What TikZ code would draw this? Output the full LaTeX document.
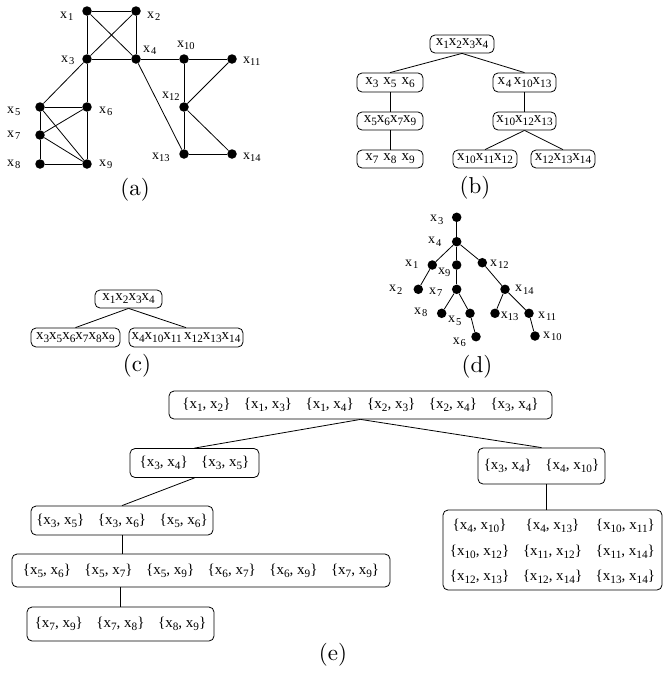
\documentclass[tikz,border=0pt]{standalone}
\usepackage{fontspec}
\newfontfamily\tm{Liberation Serif}
\newfontfamily\capfont{lmroman10-regular}[Extension=.otf]
\makeatletter
\newcommand{\xs}[1]{x\raisebox{-0.2em}{\fontsize{\strip@pt\dimexpr 0.75\dimexpr\f@size pt\relax\relax}{1}\selectfont #1}}
\newcommand{\xsub}[1]{\raisebox{-0.2em}{\fontsize{\strip@pt\dimexpr 0.75\dimexpr\f@size pt\relax\relax}{1}\selectfont #1}}
\makeatother
\newcommand{\xl}[1]{x\kern0.8pt\xsub{#1}}
\newcommand{\pr}[2]{\{\xs{#1}, \xs{#2}\}}
\newcommand{\gap}{\hspace{0.9em}}
\begin{document}
\begin{tikzpicture}[x=1pt,y=-1pt,
  dot/.style={circle, fill=black, inner sep=0pt, minimum size=9.5pt},
  lbl/.style={font=\tm\fontsize{14}{16}\selectfont, inner sep=0pt, anchor=base west},
  edge/.style={line width=0.8pt},
  tbox/.style={draw, line width=0.8pt, rounded corners=5pt, inner sep=0pt, align=center, font=\tm\fontsize{15}{17}\selectfont},
  capt/.style={font=\capfont\fontsize{23}{27}\selectfont, inner sep=0pt}]
\useasboundingbox (0,0) rectangle (663,683);
% ---------- (a) ----------
\node[dot] (a1) at (87,11) {};
\node[dot] (a2) at (136,11) {};
\node[dot] (a3) at (87,59) {};
\node[dot] (a4) at (136,59) {};
\node[dot] (a10) at (184,59) {};
\node[dot] (a11) at (232,59) {};
\node[dot] (a12) at (184,107) {};
\node[dot] (a13) at (184,154) {};
\node[dot] (a14) at (232,154) {};
\node[dot] (a5) at (40,107) {};
\node[dot] (a6) at (87,107) {};
\node[dot] (a7) at (40,135) {};
\node[dot] (a8) at (40,164) {};
\node[dot] (a9) at (87,164) {};
\foreach \u/\v in {1/2,1/3,1/4,2/3,2/4,3/4,4/10,10/11,10/12,11/12,4/13,12/13,12/14,13/14,3/5,3/6,5/6,5/7,5/9,6/7,6/9,7/9,7/8,8/9}
  \draw[edge] (a\u) -- (a\v);
\node[lbl] (la1) at (60,18) {\xl{1}};
\node[lbl] (la2) at (147,18) {\xl{2}};
\node[lbl] (la3) at (61,62) {\xl{3}};
\node[lbl] (la4) at (143,52) {\xl{4}};
\node[lbl] (la10) at (177,47) {\xs{10}};
\node[lbl] (la11) at (243,63) {\xs{11}};
\node[lbl] (la12) at (162,98) {\xs{12}};
\node[lbl] (la13) at (152,159) {\xs{13}};
\node[lbl] (la14) at (243,159) {\xs{14}};
\node[lbl] (la5) at (7,113) {\xl{5}};
\node[lbl] (la6) at (99,113) {\xl{6}};
\node[lbl] (la7) at (7,137) {\xl{7}};
\node[lbl] (la8) at (7,166) {\xl{8}};
\node[lbl] (la9) at (99,166) {\xl{9}};
\node[capt] (capa) at (135,190) {(a)};
% ---------- (b) ----------
\node[tbox, minimum width=64pt, minimum height=18pt] (b1) at (462,44) {\xs{1}\xs{2}\xs{3}\xs{4}};
\node[tbox, minimum width=66pt, minimum height=19pt] (b2) at (390,82.5) {\xs{3}\,\,\xs{5}\,\,\xs{6}};
\node[tbox, minimum width=63pt, minimum height=19pt] (b3) at (524.5,82.5) {\xl{4}\,\xs{10}\xs{13}};
\node[tbox, minimum width=66pt, minimum height=18pt] (b4) at (390,121) {\xs{5}\xs{6}\xs{7}\xs{9}};
\node[tbox, minimum width=63pt, minimum height=18pt] (b5) at (524.5,121) {\xs{10}\xs{12}\xs{13}};
\node[tbox, minimum width=66pt, minimum height=18pt] (b6) at (390,159) {\xs{7}\,\,\xs{8}\,\,\xs{9}};
\node[tbox, minimum width=64pt, minimum height=18pt] (b7) at (485,159) {\xs{10}\xs{11}\xs{12}};
\node[tbox, minimum width=64pt, minimum height=18pt] (b8) at (563,159) {\xs{12}\xs{13}\xs{14}};
\draw[edge] (b1.south) -- (b2.north);
\draw[edge] (b1.south) -- (b3.north);
\draw[edge] (b2) -- (b4);
\draw[edge] (b4) -- (b6);
\draw[edge] (b3) -- (b5);
\draw[edge] (b5.south) -- (b7.north);
\draw[edge] (b5.south) -- (b8.north);
\node[capt] (capb) at (475,188) {(b)};
% ---------- (c) ----------
\node[tbox, minimum width=67pt, minimum height=18pt] (c1) at (128.5,299) {\xs{1}\xs{2}\xs{3}\xs{4}};
\node[tbox, minimum width=89pt, minimum height=19pt] (c2) at (75.5,337.5) {\xs{3}\xs{5}\xs{6}\xs{7}\xs{8}\xs{9}};
\node[tbox, minimum width=114pt, minimum height=19pt] (c3) at (186,337.5) {\xs{4}\xs{10}\xs{11}\,\xs{12}\xs{13}\xs{14}};
\draw[edge] (c1.south) -- (c2.north);
\draw[edge] (c1.south) -- (c3.north);
\node[capt] (capc) at (137,366) {(c)};
% ---------- (d) ----------
\node[dot] (d3) at (456.7,217.3) {};
\node[dot] (d4) at (456.7,241.7) {};
\node[dot] (d1) at (432.3,265) {};
\node[dot] (d9) at (456.7,265) {};
\node[dot] (d12) at (482.3,262.7) {};
\node[dot] (d2) at (418.3,289.3) {};
\node[dot] (d7) at (456.7,289.3) {};
\node[dot] (d14) at (505,289.3) {};
\node[dot] (d8) at (441.7,313.3) {};
\node[dot] (d5) at (470,313.3) {};
\node[dot] (d13) at (495,313.3) {};
\node[dot] (d11) at (529,313.3) {};
\node[dot] (d6) at (476,336.7) {};
\node[dot] (d10) at (535,336) {};
\foreach \u/\v in {3/4,4/1,4/9,4/12,1/2,9/7,7/8,7/5,5/6,12/14,14/13,14/11,11/10}
  \draw[edge] (d\u) -- (d\v);
\node[lbl] (ld3) at (430,221.7) {\xl{3}};
\node[lbl] (ld4) at (428,243.3) {\xl{4}};
\node[lbl] (ld1) at (405,266) {\xl{1}};
\node[lbl] (ld9) at (438,274) {\xs{9}};
\node[lbl] (ld12) at (490,266) {\xl{12}};
\node[lbl] (ld2) at (389,291.7) {\xl{2}};
\node[lbl] (ld7) at (429,294) {\xl{7}};
\node[lbl] (ld14) at (515,291.7) {\xl{14}};
\node[lbl] (ld8) at (414,314) {\xl{8}};
\node[lbl] (ld5) at (448,322.7) {\xl{5}};
\node[lbl] (ld13) at (500.7,318) {\xs{13}};
\node[lbl] (ld11) at (538,318) {\xl{11}};
\node[lbl] (ld6) at (452.7,344) {\xl{6}};
\node[lbl] (ld10) at (543,338) {\xl{10}};
\node[capt] (capd) at (477,367) {(d)};
% ---------- (e) ----------
\node[tbox, minimum width=383pt, minimum height=28pt] (e1) at (360.5,405)
  {\pr{1}{2}\gap\pr{1}{3}\gap\pr{1}{4}\gap\pr{2}{3}\gap\pr{2}{4}\gap\pr{3}{4}};
\node[tbox, minimum width=129pt, minimum height=29pt] (e2) at (194.5,463)
  {\pr{3}{4}\gap\pr{3}{5}};
\node[tbox, minimum width=127pt, minimum height=36pt] (e3) at (541.5,466)
  {\pr{3}{4}\gap\pr{4}{10}};
\node[tbox, minimum width=182pt, minimum height=29pt] (e4) at (122,520.5)
  {\pr{3}{5}\gap\pr{3}{6}\gap\pr{5}{6}};
\node[tbox, minimum width=378pt, minimum height=33pt] (e5) at (201,570.5)
  {\pr{5}{6}\gap\pr{5}{7}\gap\pr{5}{9}\gap\pr{6}{7}\gap\pr{6}{9}\gap\pr{7}{9}};
\node[tbox, minimum width=187pt, minimum height=34pt] (e6) at (120.5,624)
  {\pr{7}{9}\gap\pr{7}{8}\gap\pr{8}{9}};
\node[tbox, minimum width=219pt, minimum height=80pt] (e7) at (552.5,550)
  {\renewcommand{\arraystretch}{1.5}%
   \begin{tabular}{@{}c@{\gap}c@{\gap}c@{}}
   \pr{4}{10} & \pr{4}{13} & \pr{10}{11}\\
   \pr{10}{12} & \pr{11}{12} & \pr{11}{14}\\
   \pr{12}{13} & \pr{12}{14} & \pr{13}{14}
   \end{tabular}};
\draw[edge] (e1.south) -- (e2.north);
\draw[edge] (e1.south) -- (e3.north);
\draw[edge] (e2.south) -- (e4.north);
\draw[edge] (e4.south) -- (e4.south |- e5.north);
\draw[edge] (e6.north |- e5.south) -- (e6.north);
\draw[edge] ([xshift=5pt]e3.south) -- ([xshift=5pt]e3.south |- e7.north);
\node[capt] (cape) at (333,655) {(e)};
\end{tikzpicture}
\end{document}
